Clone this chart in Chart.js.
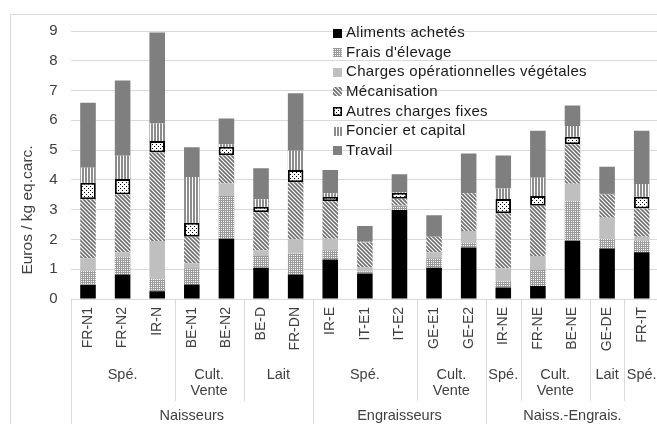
<!DOCTYPE html>
<html>
<head>
<meta charset="utf-8">
<script src="https://cdn.jsdelivr.net/npm/chart.js@4"></script>
<style>
  html, body { margin: 0; padding: 0; overflow: hidden; background: #fff; }
  #wrap { position: relative; width: 660px; height: 424px; }
</style>
</head>
<body>
<div id="wrap"><canvas id="myChart"></canvas></div>
<script>
// Catégories (niveau 1 de l'axe)
const categories = ['FR-N1', 'FR-N2', 'IR-N', 'BE-N1', 'BE-N2', 'BE-D', 'FR-DN',
    'IR-E', 'IT-E1', 'IT-E2', 'GE-E1', 'GE-E2',
    'IR-NE', 'FR-NE', 'BE-NE', 'GE-DE', 'FR-IT'];

// Sous-groupes (niveau 2) : libellé + nombre de catégories
const subGroupLabels = ['Spé.', 'Cult.\nVente', 'Lait', 'Spé.', 'Cult.\nVente', 'Spé.', 'Cult.\nVente', 'Lait', 'Spé.'];
const subGroupSizes = [3, 2, 2, 3, 2, 1, 2, 1, 1];

// Groupes (niveau 3)
const groupLabels = ['Naisseurs', 'Engraisseurs', 'Naiss.-Engrais.'];
const groupSizes = [7, 5, 5];

const seriesNames = ['Aliments achetés', "Frais d'élevage", 'Charges opérationnelles végétales',
    'Mécanisation', 'Autres charges fixes', 'Foncier et capital', 'Travail'];

const aliments = [0.47, 0.82, 0.26, 0.49, 2.02, 1.05, 0.82, 1.33, 0.86, 2.99, 1.05, 1.73, 0.39, 0.44, 1.96, 1.70, 1.57];
const fraisElevage = [0.48, 0.60, 0.40, 0.54, 1.44, 0.39, 0.71, 0.31, 0.06, 0.13, 0.32, 0.16, 0.21, 0.53, 1.32, 0.32, 0.38];
const chargesVeg = [0.42, 0.15, 1.29, 0.17, 0.42, 0.20, 0.47, 0.38, 0.14, 0.02, 0.20, 0.39, 0.43, 0.47, 0.59, 0.71, 0.14];
const mecanisation = [1.98, 1.94, 2.97, 0.89, 0.95, 1.27, 1.92, 1.26, 0.84, 0.23, 0.52, 1.27, 1.85, 1.69, 1.33, 0.78, 0.95];
const autresCharges = [0.55, 0.52, 0.39, 0.47, 0.28, 0.19, 0.41, 0.15, 0, 0.20, 0, 0, 0.48, 0.33, 0.25, 0.03, 0.39];
const foncier = [0.51, 0.78, 0.58, 1.54, 0.09, 0.25, 0.65, 0.12, 0.02, 0.02, 0, 0, 0.35, 0.61, 0.36, 0, 0.43];
const travail = [2.18, 2.53, 3.06, 1.00, 0.86, 1.04, 1.93, 0.78, 0.53, 0.60, 0.72, 1.34, 1.11, 1.58, 0.69, 0.90, 1.79];

const yMax = 9;
const FONT = "'Liberation Sans', Arial, sans-serif";
const axisColor = '#404040';

// petits motifs de remplissage
function makePattern(w, h, draw) {
    const c = document.createElement('canvas');
    c.width = w; c.height = h;
    const g = c.getContext('2d');
    draw(g);
    return g.createPattern(c, 'repeat');
}

const patFrais = makePattern(2, 2, g => {
    g.fillStyle = '#9a9a9a'; g.fillRect(0, 0, 2, 2);
    g.fillStyle = '#ffffff'; g.fillRect(1, 1, 1, 1);
});
const patMeca = makePattern(4, 4, g => {
    g.fillStyle = '#ffffff'; g.fillRect(0, 0, 4, 4);
    g.strokeStyle = '#6e6e6e'; g.lineWidth = 1.6;
    g.beginPath();
    g.moveTo(-1, -1); g.lineTo(5, 5);
    g.moveTo(-1, 3); g.lineTo(1, 5);
    g.moveTo(3, -1); g.lineTo(5, 1);
    g.stroke();
});
const patAutres = makePattern(4, 4, g => {
    g.fillStyle = '#ffffff'; g.fillRect(0, 0, 4, 4);
    g.fillStyle = '#000000';
    g.fillRect(0, 0, 1, 1); g.fillRect(2, 2, 1, 1);
});
const patFoncier = makePattern(3, 1, g => {
    g.fillStyle = '#8c8c8c'; g.fillRect(0, 0, 3, 1);
    g.fillStyle = '#ffffff'; g.fillRect(0, 0, 1, 1);
});

const fills = ['#000000', patFrais, '#bfbfbf', patMeca, patAutres, patFoncier, '#7f7f7f'];
const values = [aliments, fraisElevage, chargesVeg, mecanisation, autresCharges, foncier, travail];

const datasets = seriesNames.map((name, i) => ({
    label: name,
    data: values[i],
    backgroundColor: fills[i],
    borderColor: '#000000',
    borderWidth: i === 4 ? 2 : 0,
    borderSkipped: false,
    barPercentage: 0.45,
    categoryPercentage: 1
}));

// axe multi-niveaux, cadre, titre et légende dessinés à la main
const decorPlugin = {
    id: 'decor',
    beforeDraw(chart) {
        const ctx = chart.ctx;
        ctx.save();
        ctx.strokeStyle = '#d9d9d9';
        ctx.lineWidth = 1;
        ctx.strokeRect(10.5, 14.5, 700, 500);
        ctx.restore();
    },
    afterDatasetsDraw(chart) {
        const ctx = chart.ctx;
        const area = chart.chartArea;
        const xs = chart.scales.x;
        const step = (area.right - area.left) / categories.length;
        const edge = k => Math.round(area.left + k * step) + 0.5;

        ctx.save();
        // lignes de l'axe
        ctx.strokeStyle = '#d9d9d9';
        ctx.lineWidth = 1;
        ctx.beginPath();
        ctx.moveTo(area.left, Math.round(area.bottom) + 0.5);
        ctx.lineTo(area.right, Math.round(area.bottom) + 0.5);
        let k = 0;
        const bigEdges = [0];
        groupSizes.forEach(s => { k += s; bigEdges.push(k); });
        bigEdges.forEach(e => {
            ctx.moveTo(edge(e), area.bottom);
            ctx.lineTo(edge(e), 424);
        });
        k = 0;
        subGroupSizes.forEach(s => {
            k += s;
            if (!bigEdges.includes(k)) {
                ctx.moveTo(edge(k), area.bottom);
                ctx.lineTo(edge(k), 401);
            }
        });
        ctx.stroke();

        // libellés des catégories
        ctx.fillStyle = axisColor;
        ctx.font = '14px ' + FONT;
        categories.forEach((c, i) => {
            ctx.save();
            ctx.translate(xs.getPixelForValue(i), 307);
            ctx.rotate(-Math.PI / 2);
            ctx.textAlign = 'right';
            ctx.textBaseline = 'middle';
            ctx.fillText(c, 0, 0);
            ctx.restore();
        });

        // sous-groupes
        ctx.font = '14.5px ' + FONT;
        ctx.textAlign = 'center';
        ctx.textBaseline = 'middle';
        k = 0;
        subGroupLabels.forEach((lab, i) => {
            const mid = area.left + (k + subGroupSizes[i] / 2) * step;
            lab.split('\n').forEach((line, j) => ctx.fillText(line, mid, 375 + j * 16));
            k += subGroupSizes[i];
        });

        // groupes
        k = 0;
        groupLabels.forEach((lab, i) => {
            const mid = area.left + (k + groupSizes[i] / 2) * step;
            ctx.fillText(lab, mid, 416);
            k += groupSizes[i];
        });

        // titre de l'axe Y
        ctx.save();
        ctx.translate(28, 210);
        ctx.rotate(-Math.PI / 2);
        ctx.font = '15.5px ' + FONT;
        ctx.fillText('Euros / kg eq.carc.', 0, 0);
        ctx.restore();

        // légende
        ctx.font = '15px ' + FONT;
        ctx.textAlign = 'left';
        ctx.letterSpacing = '0.3px';
        seriesNames.forEach((name, i) => {
            const y = 33 + i * 19.6;
            ctx.fillStyle = fills[i];
            ctx.fillRect(333, Math.round(y - 4.5), 9, 9);
            if (i === 4) {
                ctx.strokeStyle = '#000';
                ctx.lineWidth = 1.5;
                ctx.strokeRect(333.75, Math.round(y - 4.5) + 0.75, 7.5, 7.5);
            }
            ctx.fillStyle = '#1a1a1a';
            ctx.fillText(name, 346, y);
        });
        ctx.restore();
    }
};

const ctx = document.getElementById('myChart').getContext('2d');
const myChart = new Chart(ctx, {
    type: 'bar',
    data: { labels: categories, datasets: datasets },
    options: {
        responsive: true,
        maintainAspectRatio: false,
        animation: false,
        layout: { padding: { left: 0, right: 1, top: 31, bottom: 125 } },
        plugins: {
            legend: { display: false },
            title: { display: false },
            tooltip: { enabled: false }
        },
        scales: {
            x: {
                stacked: true,
                display: false
            },
            y: {
                stacked: true,
                min: 0,
                max: yMax,
                ticks: {
                    stepSize: 1,
                    padding: 13,
                    color: axisColor,
                    font: { family: FONT, size: 15 }
                },
                grid: { color: '#d9d9d9', drawTicks: false },
                border: { display: false },
                afterFit: scale => { scale.width = 70.7; }
            }
        }
    },
    plugins: [decorPlugin]
});
</script>
</body>
</html>
